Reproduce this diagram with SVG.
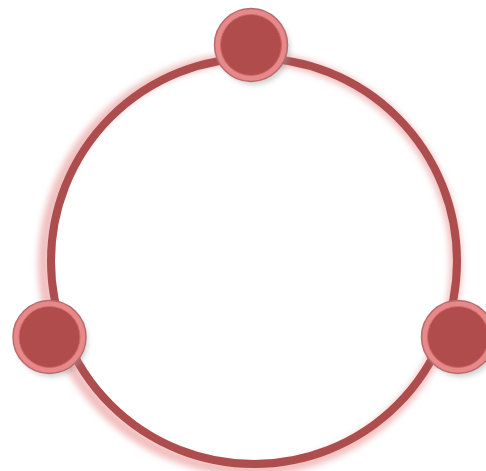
<svg xmlns="http://www.w3.org/2000/svg" width="486" height="471" viewBox="0 0 486 471">
<defs>
<filter id="glow" x="-20%" y="-20%" width="140%" height="140%"><feGaussianBlur stdDeviation="3"/></filter>
<filter id="sh" x="-50%" y="-50%" width="200%" height="200%"><feGaussianBlur stdDeviation="2.5"/></filter>
<style>
.ring{fill:none;stroke:#ad4d4d;stroke-width:8}
.halo{fill:none;stroke:#efb3b3;stroke-width:12;opacity:0.85}
.nshadow{fill:#9a9a9a;opacity:0.45}
.nouter{fill:#e7898a;stroke:#b96a6a;stroke-width:1.5}
.ninner{fill:#b04c4c;stroke:#d26868;stroke-width:1}
</style>
</defs>
<rect width="486" height="471" fill="#ffffff"/>
<g id="connectors">
<circle class="halo" cx="250" cy="264" r="206" filter="url(#glow)"/>
<circle class="ring" cx="254" cy="261" r="203"/>
</g>
<g id="node-top">
<circle class="nshadow" cx="254" cy="49" r="36" filter="url(#sh)"/>
<circle class="nouter" cx="251" cy="45" r="36.5"/>
<circle class="ninner" cx="251" cy="45" r="30.5"/>
</g>
<g id="node-left">
<circle class="nshadow" cx="52" cy="341" r="36" filter="url(#sh)"/>
<circle class="nouter" cx="49.5" cy="337" r="36.5"/>
<circle class="ninner" cx="49.5" cy="337" r="30.5"/>
</g>
<g id="node-right">
<circle class="nshadow" cx="461" cy="341" r="36" filter="url(#sh)"/>
<circle class="nouter" cx="458" cy="337" r="36.5"/>
<circle class="ninner" cx="458" cy="337" r="30.5"/>
</g>
</svg>
